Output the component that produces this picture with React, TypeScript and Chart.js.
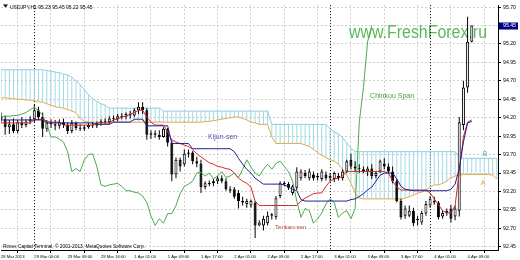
import React, { useEffect, useRef } from 'react';
import { Chart, registerables } from 'chart.js';

Chart.register(...registerables);

// ---- candles (USDJPY H1), index 0 = 28 Mar 16:00 ----
const open = [
  94.22, 94.18, 94.07, 94.11, 94.02, 94.14, 94.10, 94.15, 94.18, 94.30,
  94.21, 94.05, 94.13, 94.11, 94.09, 94.14, 94.10, 94.02, 94.13, 94.06,
  94.05, 94.07, 94.10, 94.09, 94.13, 94.15, 94.14, 94.19, 94.18, 94.22,
  94.21, 94.25, 94.23, 94.30, 94.35, 94.30, 93.97, 93.99, 93.97, 93.94,
  94.05, 93.86, 93.43, 93.63, 93.57, 93.71, 93.73, 93.61, 93.58, 93.26,
  93.31, 93.31, 93.34, 93.38, 93.34, 93.23, 93.23, 93.18, 93.07, 93.03,
  93.01, 93.05, 92.74, 92.74, 92.77, 92.87, 92.85, 93.14, 93.31, 93.30,
  93.18, 93.25, 93.38, 93.45, 93.38, 93.43, 93.39, 93.37, 93.43, 93.38,
  93.37, 93.41, 93.38, 93.47, 93.63, 93.54, 93.51, 93.50, 93.47, 93.51,
  93.41, 93.47, 93.58, 93.54, 93.47, 93.34, 93.07, 92.87, 92.87, 92.94,
  92.81, 92.78, 92.90, 93.01, 93.07, 93.05, 92.86, 92.91, 92.97, 92.86,
  92.94, 94.10, 94.61, 95.23,
];
const high = [
  94.27, 94.23, 94.17, 94.19, 94.17, 94.21, 94.18, 94.22, 94.38, 94.35,
  94.27, 94.17, 94.18, 94.17, 94.18, 94.19, 94.14, 94.17, 94.15, 94.11,
  94.10, 94.13, 94.14, 94.15, 94.18, 94.19, 94.22, 94.23, 94.25, 94.26,
  94.27, 94.29, 94.33, 94.41, 94.41, 94.33, 94.03, 94.03, 94.03, 94.07,
  94.06, 93.89, 93.66, 93.66, 93.77, 93.77, 93.75, 93.67, 93.63, 93.34,
  93.35, 93.37, 93.41, 93.42, 93.38, 93.27, 93.26, 93.22, 93.13, 93.10,
  93.09, 93.07, 92.81, 92.87, 92.93, 92.91, 93.14, 93.34, 93.34, 93.33,
  93.29, 93.53, 93.50, 93.49, 93.51, 93.47, 93.45, 93.50, 93.47, 93.45,
  93.47, 93.45, 93.50, 93.63, 93.71, 93.61, 93.57, 93.54, 93.54, 93.57,
  93.47, 93.63, 93.65, 93.58, 93.54, 93.37, 93.10, 93.01, 93.01, 92.98,
  92.87, 92.94, 93.07, 93.14, 93.13, 93.07, 92.94, 92.97, 93.02, 93.01,
  94.21, 94.70, 95.57, 95.45,
];
const low = [
  94.14, 93.97, 93.98, 93.99, 93.99, 94.06, 94.07, 94.11, 94.14, 94.17,
  93.94, 94.01, 94.06, 94.03, 94.05, 94.06, 93.98, 93.99, 94.03, 94.02,
  94.02, 94.05, 94.06, 94.06, 94.09, 94.11, 94.11, 94.15, 94.15, 94.18,
  94.18, 94.19, 94.21, 94.25, 94.25, 93.90, 93.91, 93.93, 93.90, 93.93,
  93.81, 93.34, 93.38, 93.47, 93.54, 93.66, 93.57, 93.53, 93.18, 93.23,
  93.27, 93.27, 93.30, 93.31, 93.21, 93.18, 93.10, 92.97, 93.01, 92.98,
  92.98, 92.57, 92.73, 92.67, 92.74, 92.82, 92.82, 93.11, 93.27, 93.22,
  93.15, 93.22, 93.35, 93.38, 93.35, 93.35, 93.35, 93.34, 93.35, 93.34,
  93.33, 93.35, 93.35, 93.45, 93.50, 93.47, 93.45, 93.45, 93.41, 93.37,
  93.38, 93.45, 93.50, 93.45, 93.31, 93.05, 92.82, 92.83, 92.85, 92.73,
  92.74, 92.75, 92.87, 92.98, 93.02, 92.82, 92.83, 92.87, 92.78, 92.81,
  92.86, 94.03, 94.54, 95.22,
];
const close = [
  94.18, 94.07, 94.11, 94.02, 94.14, 94.10, 94.15, 94.18, 94.30, 94.21,
  94.05, 94.13, 94.11, 94.09, 94.14, 94.10, 94.02, 94.13, 94.06, 94.05,
  94.07, 94.10, 94.09, 94.13, 94.15, 94.14, 94.19, 94.18, 94.22, 94.21,
  94.25, 94.23, 94.30, 94.35, 94.30, 93.97, 93.99, 93.97, 93.94, 94.05,
  93.86, 93.43, 93.63, 93.54, 93.71, 93.73, 93.61, 93.58, 93.26, 93.31,
  93.30, 93.34, 93.38, 93.34, 93.23, 93.21, 93.13, 93.07, 93.05, 93.07,
  93.07, 92.74, 92.78, 92.83, 92.87, 92.89, 93.11, 93.31, 93.30, 93.25,
  93.27, 93.47, 93.47, 93.41, 93.47, 93.38, 93.41, 93.47, 93.38, 93.41,
  93.45, 93.38, 93.47, 93.61, 93.54, 93.51, 93.50, 93.47, 93.51, 93.41,
  93.45, 93.61, 93.54, 93.47, 93.34, 93.07, 92.85, 92.97, 92.94, 92.77,
  92.83, 92.91, 93.03, 93.10, 93.05, 92.85, 92.91, 92.94, 92.83, 92.97,
  94.14, 94.61, 95.23, 95.45,
];

// ---- Ichimoku lines ----
const tenkan = [
  94.13, 94.13, 94.13, 94.13, 94.13, 94.13, 94.13, 94.13, 94.17, 94.18,
  94.18, 94.15, 94.14, 94.14, 94.14, 94.10, 94.10, 94.10, 94.10, 94.10,
  94.10, 94.10, 94.10, 94.13, 94.13, 94.13, 94.13, 94.17, 94.18, 94.21,
  94.22, 94.25, 94.27, 94.30, 94.30, 94.21, 94.14, 94.10, 94.10, 94.10,
  94.01, 93.90, 93.87, 93.85, 93.83, 93.81, 93.77, 93.71, 93.67, 93.63,
  93.59, 93.57, 93.54, 93.53, 93.51, 93.50, 93.45, 93.38, 93.34, 93.31,
  93.26, 93.07, 93.01, 93.01, 93.01, 93.01, 93.01, 93.01, 93.01, 93.01,
  93.01, 93.01, 93.07, 93.11, 93.14, 93.17, 93.18, 93.18, 93.27, 93.34,
  93.37, 93.38, 93.41, 93.47, 93.47, 93.47, 93.47, 93.47, 93.47, 93.47,
  93.47, 93.47, 93.47, 93.45, 93.34, 93.26, 93.22, 93.22, 93.22, 93.22,
  93.22, 93.22, 93.22, 93.18, 93.10, 93.02, 92.94, 92.91, 92.91, 93.01,
  93.47, 93.94, 94.14, 94.17,
];
const kijun = [
  94.17, 94.17, 94.17, 94.17, 94.17, 94.17, 94.17, 94.17, 94.17, 94.17,
  94.17, 94.13, 94.13, 94.13, 94.13, 94.13, 94.13, 94.13, 94.13, 94.13,
  94.13, 94.13, 94.13, 94.11, 94.11, 94.11, 94.11, 94.14, 94.14, 94.14,
  94.14, 94.14, 94.18, 94.18, 94.18, 94.09, 94.09, 94.09, 94.09, 94.09,
  94.09, 93.85, 93.85, 93.85, 93.85, 93.85, 93.78, 93.78, 93.78, 93.78,
  93.78, 93.78, 93.78, 93.78, 93.78, 93.78, 93.74, 93.65, 93.57, 93.50,
  93.45, 93.38, 93.34, 93.30, 93.30, 93.30, 93.30, 93.30, 93.29, 93.26,
  93.23, 93.21, 93.09, 93.07, 93.07, 93.07, 93.07, 93.07, 93.07, 93.07,
  93.07, 93.07, 93.07, 93.07, 93.09, 93.10, 93.13, 93.17, 93.22, 93.26,
  93.34, 93.42, 93.45, 93.45, 93.45, 93.37, 93.27, 93.23, 93.22, 93.21,
  93.21, 93.21, 93.21, 93.21, 93.21, 93.21, 93.21, 93.21, 93.23, 93.30,
  93.51, 93.87, 94.13, 94.15,
];
const chinkou = [
  94.21, 94.22, 94.22, 94.23, 94.23, 94.25, 94.27, 94.31, 94.34, 94.30,
  94.23, 94.11, 93.94, 93.94, 93.91, 93.87, 93.74, 93.47, 93.51, 93.47,
  93.63, 93.70, 93.71, 93.54, 93.29, 93.27, 93.29, 93.30, 93.31, 93.27,
  93.21, 93.21, 93.19, 93.18, 93.14, 93.05, 92.87, 92.74, 92.83, 92.77,
  92.90, 92.90, 93.01, 93.17, 93.27, 93.30, 93.34, 93.45, 93.46, 93.41,
  93.45, 93.37, 93.41, 93.47, 93.39, 93.41, 93.45, 93.39, 93.50, 93.63,
  93.53, 93.45, 93.41, 93.50, 93.57, 93.50, 93.58, 93.61, 93.54, 93.47,
  93.34, 93.07, 92.85, 92.97, 92.94, 92.77, 92.83, 92.91, 93.03, 93.10,
  93.05, 92.85, 92.91, 92.94, 92.83, 92.97, 94.14, 94.61, 95.23, 95.45,
];
const spanA = [
  94.47, 94.47, 94.46, 94.46, 94.45, 94.45, 94.44, 94.44, 94.43, 94.42,
  94.41, 94.39, 94.37, 94.35, 94.34, 94.33, 94.31, 94.29, 94.27, 94.19,
  94.15, 94.14, 94.14, 94.14, 94.14, 94.14, 94.14, 94.14, 94.14, 94.14,
  94.14, 94.14, 94.14, 94.14, 94.14, 94.14, 94.14, 94.14, 94.14, 94.14,
  94.14, 94.14, 94.14, 94.14, 94.14, 94.14, 94.14, 94.14, 94.14, 94.15,
  94.15, 94.16, 94.17, 94.18, 94.19, 94.20, 94.21, 94.21, 94.19, 94.17,
  94.14, 94.13, 94.11, 94.11, 94.11, 93.94, 93.85, 93.85, 93.85, 93.85,
  93.85, 93.85, 93.85, 93.83, 93.81, 93.77, 93.73, 93.69, 93.66, 93.63,
  93.61, 93.57, 93.50, 93.42, 93.31, 93.18, 93.11, 93.10, 93.10, 93.10,
  93.10, 93.10, 93.10, 93.10, 93.10, 93.10, 93.10, 93.11, 93.13, 93.15,
  93.18, 93.19, 93.22, 93.26, 93.29, 93.29, 93.31, 93.34, 93.38, 93.41,
  93.42, 93.43, 93.43, 93.43, 93.43, 93.43, 93.43, 93.43, 93.42, 93.37,
];
const spanB = [
  94.85, 94.85, 94.85, 94.85, 94.85, 94.85, 94.85, 94.85, 94.85, 94.85,
  94.85, 94.84, 94.83, 94.82, 94.81, 94.79, 94.78, 94.75, 94.70, 94.65,
  94.58, 94.51, 94.46, 94.42, 94.39, 94.37, 94.33, 94.33, 94.33, 94.33,
  94.33, 94.33, 94.33, 94.33, 94.33, 94.33, 94.33, 94.33, 94.33, 94.29,
  94.29, 94.29, 94.29, 94.29, 94.29, 94.29, 94.29, 94.29, 94.29, 94.29,
  94.29, 94.29, 94.29, 94.29, 94.29, 94.29, 94.29, 94.29, 94.29, 94.29,
  94.29, 94.29, 94.29, 94.29, 94.29, 94.11, 94.11, 94.11, 94.11, 94.11,
  94.11, 94.11, 94.11, 94.11, 94.11, 94.11, 94.11, 94.11, 94.11, 94.05,
  94.01, 93.98, 93.93, 93.86, 93.79, 93.74, 93.74, 93.74, 93.74, 93.74,
  93.74, 93.74, 93.74, 93.74, 93.74, 93.74, 93.74, 93.74, 93.74, 93.74,
  93.74, 93.74, 93.74, 93.74, 93.74, 93.74, 93.74, 93.74, 93.74, 93.74,
  93.67, 93.65, 93.65, 93.65, 93.65, 93.65, 93.65, 93.65, 93.65, 93.65,
];

// ---- axes ----
const yTicks = [95.70, 95.45, 95.20, 94.95, 94.70, 94.45, 94.20, 93.95, 93.70, 93.45, 93.20, 92.95, 92.70, 92.45];
const xTickIdx = [0, 8, 16, 24, 32, 40, 48, 56, 64, 72, 80, 88, 96, 104, 112];
const xTickLabels = [
  '28 Mar 2013', '29 Mar 00:00', '29 Mar 08:00', '29 Mar 16:00', '1 Apr 01:00',
  '1 Apr 09:00', '1 Apr 17:00', '2 Apr 01:00', '2 Apr 09:00', '2 Apr 17:00',
  '3 Apr 01:00', '3 Apr 09:00', '3 Apr 17:00', '4 Apr 01:00', '4 Apr 09:00',
];
const separators = [8, 79, 103];

const symbol = 'USDJPY,H1';
const watermark = 'www.FreshForex.ru';
const copyright = 'Rimex Capital Terminal, \u00A9 2001-2013, MetaQuotes Software Corp.';

const FONT = '"Liberation Sans", Arial, Helvetica, sans-serif';

const annotations = [
  { text: 'Kijun-sen', x: 49.7, y: 93.94, color: '#5656b4', size: 7, align: 'left' },
  { text: 'Chinkou Span', x: 88.6, y: 94.5, color: '#3f9f3f', size: 7, align: 'left' },
  { text: 'Tenkan-sen', x: 65.8, y: 92.71, color: '#c04444', size: 6, align: 'left' },
  { text: 'B', x: 116.2, y: 93.71, color: '#5aa6c8', size: 7, align: 'center' },
  { text: 'A', x: 115.7, y: 93.31, color: '#e0a040', size: 7, align: 'center' },
];

const overlayPlugin = {
  id: 'ichimokuOverlay',
  beforeDatasetsDraw(chart: any) {
    const { ctx, chartArea: a, scales } = chart;
    ctx.save();
    ctx.font = `18px ${FONT}`;
    const w = ctx.measureText(watermark).width;
    ctx.translate(349, 37.5);
    ctx.scale(138 / w, 1);
    ctx.fillStyle = '#5cb85c';
    ctx.textAlign = 'left';
    ctx.textBaseline = 'alphabetic';
    ctx.fillText(watermark, 0, 0);
    ctx.restore();

    ctx.save();
    ctx.strokeStyle = '#000';
    ctx.lineWidth = 1;
    ctx.setLineDash([1, 2]);
    for (const s of separators) {
      const px = Math.round(scales.x.getPixelForValue(s)) + 0.5;
      ctx.beginPath();
      ctx.moveTo(px, a.top);
      ctx.lineTo(px, a.bottom);
      ctx.stroke();
    }
    ctx.restore();
  },
  afterDatasetsDraw(chart: any) {
    const { ctx, chartArea: a, scales } = chart;
    const xs = scales.x;
    const ys = scales.y;
    ctx.save();
    ctx.textBaseline = 'middle';
    for (const n of annotations) {
      ctx.font = `${n.size}px ${FONT}`;
      ctx.fillStyle = n.color;
      ctx.textAlign = n.align;
      ctx.fillText(n.text, xs.getPixelForValue(n.x), ys.getPixelForValue(n.y));
    }
    const last = close.length - 1;
    // title
    ctx.fillStyle = '#000';
    ctx.beginPath();
    ctx.moveTo(a.left + 2, 4.5);
    ctx.lineTo(a.left + 7, 4.5);
    ctx.lineTo(a.left + 4.5, 7.5);
    ctx.closePath();
    ctx.fill();
    ctx.font = `5px ${FONT}`;
    ctx.textAlign = 'left';
    ctx.textBaseline = 'alphabetic';
    const title = `${symbol} ${open[last].toFixed(2)} ${high[last].toFixed(2)} ${low[last].toFixed(2)} ${close[last].toFixed(2)}`;
    ctx.fillText(title, a.left + 9, 8.5);
    // copyright
    ctx.font = `4.8px ${FONT}`;
    ctx.fillText(copyright, a.left + 2, a.bottom - 2);
    // last price box
    const py = ys.getPixelForValue(close[last]);
    ctx.fillStyle = '#000080';
    ctx.fillRect(a.right + 1, Math.round(py) - 3.5, 19, 7);
    ctx.fillStyle = '#fff';
    ctx.font = `5.2px ${FONT}`;
    ctx.textBaseline = 'middle';
    ctx.fillText(close[last].toFixed(2), a.right + 5, py);
    ctx.restore();
  },
};

export default function App() {
  const ref = useRef<HTMLCanvasElement>(null);

  useEffect(() => {
    const canvas = ref.current;
    if (!canvas) return;

    const line = (vals: number[], color: string, order: number, label: string) => ({
      type: 'line' as const,
      label,
      data: vals.map((v, i) => ({ x: i, y: v })),
      borderColor: color,
      borderWidth: 1,
      pointRadius: 0,
      pointHoverRadius: 0,
      tension: 0,
      fill: false,
      order,
    });

    const chart = new Chart(canvas, {
      type: 'line',
      data: {
        datasets: [
          {
            type: 'bar',
            label: 'Kumo',
            data: spanA.map((v, i) => ({ x: i, y: [v, spanB[i]] })),
            backgroundColor: '#a3d9e5',
            barThickness: 1,
            grouped: false,
            inflateAmount: 0,
            order: 20,
          } as any,
          line(spanA, '#e2a94a', 19, 'Senkou Span A'),
          line(spanB, '#8fcddc', 18, 'Senkou Span B'),
          {
            type: 'bar',
            label: 'Wick',
            data: low.map((v, i) => ({ x: i, y: [v, high[i]] })),
            backgroundColor: '#000',
            barThickness: 1,
            grouped: false,
            inflateAmount: 0,
            order: 15,
          } as any,
          {
            type: 'bar',
            label: 'Body',
            data: open.map((v, i) => ({ x: i, y: [v, close[i]] })),
            backgroundColor: open.map((v, i) => (close[i] >= v ? '#ffffff' : '#000000')),
            borderColor: '#000',
            borderWidth: 1,
            borderSkipped: false,
            barThickness: 3,
            minBarLength: 1,
            grouped: false,
            inflateAmount: 0,
            order: 14,
          } as any,
          line(chinkou, '#4aaa4a', 5, 'Chinkou Span'),
          line(tenkan, '#d42a2a', 4, 'Tenkan-sen'),
          line(kijun, '#1e1e96', 3, 'Kijun-sen'),
        ],
      },
      options: {
        responsive: false,
        animation: false,
        devicePixelRatio: 1,
        events: [],
        layout: { padding: { left: 1, top: 1, right: 0, bottom: 0 } },
        plugins: {
          legend: { display: false },
          tooltip: { enabled: false },
          title: { display: false },
        },
        scales: {
          x: {
            type: 'linear',
            min: 0,
            max: 119.3,
            offset: false,
            afterBuildTicks: (s: any) => {
              s.ticks = xTickIdx.map((v) => ({ value: v }));
            },
            afterFit: (s: any) => {
              s.height = 10;
            },
            ticks: {
              autoSkip: false,
              maxRotation: 0,
              minRotation: 0,
              align: 'start',
              padding: 1,
              color: '#000',
              font: { size: 4.2, family: FONT },
              callback: (_v: any, i: number) => xTickLabels[i],
            },
            grid: {
              color: '#cfcfcf',
              lineWidth: 1,
              drawTicks: true,
              tickLength: 3,
              tickColor: '#000',
              tickBorderDash: [],
            },
            border: { display: true, color: '#000', width: 1, dash: [2, 2] },
          },
          y: {
            type: 'linear',
            position: 'right',
            min: 92.4067,
            max: 95.7267,
            afterBuildTicks: (s: any) => {
              s.ticks = yTicks.map((v) => ({ value: v }));
            },
            afterFit: (s: any) => {
              s.width = 22;
            },
            ticks: {
              autoSkip: false,
              padding: 2,
              color: '#000',
              font: { size: 5.2, family: FONT },
              callback: (v: any) => Number(v).toFixed(2),
            },
            grid: {
              color: '#cfcfcf',
              lineWidth: 1,
              drawTicks: true,
              tickLength: 3,
              tickColor: '#000',
              tickBorderDash: [],
            },
            border: { display: true, color: '#000', width: 1, dash: [2, 2] },
          },
        },
      } as any,
      plugins: [overlayPlugin],
    });

    return () => chart.destroy();
  }, []);

  return (
    <div style={{ position: 'fixed', left: 0, top: 0, width: 520, height: 260, background: '#fff' }}>
      <canvas ref={ref} width={520} height={260} style={{ display: 'block', width: 520, height: 260 }} />
    </div>
  );
}
